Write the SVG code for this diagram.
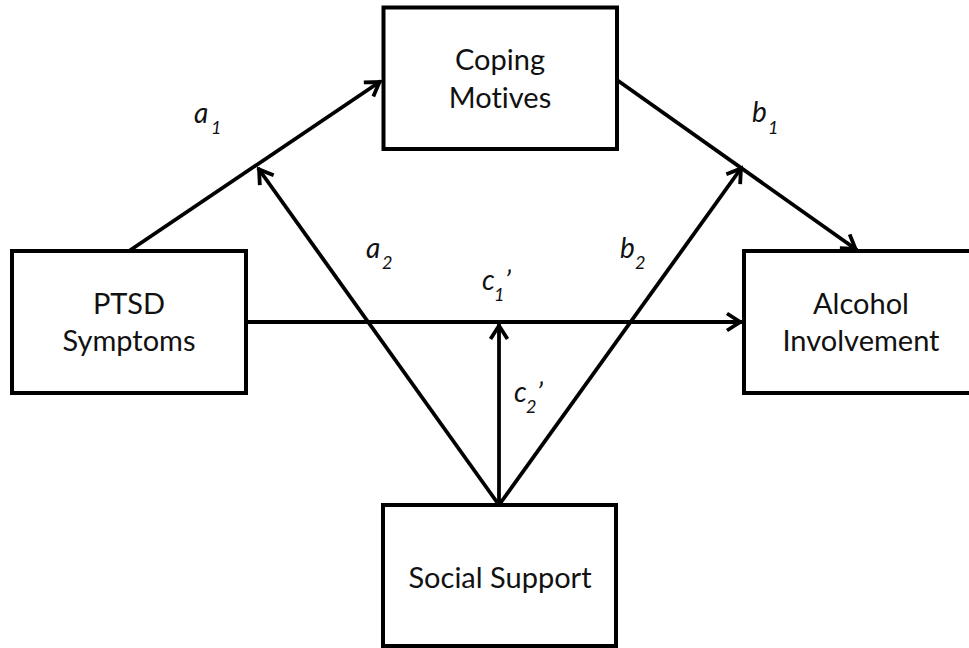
<svg xmlns="http://www.w3.org/2000/svg" width="969" height="648" viewBox="0 0 969 648">
  <style>
    .box { fill: #ffffff; stroke: #000000; stroke-width: 4; }
    .name { font-family: Lato, "Open Sans", "Liberation Sans", sans-serif; font-size: 29px; fill: #111111; text-anchor: middle; font-variant-ligatures: none; }
    .path { stroke: #000000; stroke-width: 3.8; fill: none; marker-end: url(#arrow); }
    .coef { font-family: Lato, "Open Sans", "Liberation Sans", sans-serif; font-style: italic; font-size: 28px; fill: #111111; }
    .sub { font-size: 18px; }
  </style>
  <defs>
    <marker id="arrow" markerUnits="userSpaceOnUse" viewBox="-20 -12 24 24" refX="0" refY="0" markerWidth="24" markerHeight="24" orient="auto">
      <path d="M-15,-8.5 L-1.8,0 L-15,8.5" fill="none" stroke="#000000" stroke-width="3.8"/>
    </marker>
  </defs>
  <rect width="969" height="648" fill="#ffffff"/>

  <!-- paths between the variables -->
  <g id="connectors">
    <line class="path" x1="129" y1="251" x2="381" y2="81"/>
    <line class="path" x1="617" y1="80" x2="857" y2="250"/>
    <line class="path" x1="246" y1="322" x2="742" y2="322"/>
    <line class="path" x1="499" y1="505" x2="499" y2="324"/>
    <line class="path" x1="499" y1="505" x2="258" y2="168"/>
    <line class="path" x1="499" y1="505" x2="742" y2="167"/>
  </g>

  <g id="coping-motives">
    <rect class="box" x="383.5" y="7.5" width="233.5" height="141.5"/>
    <text class="name" x="500" y="70">Coping</text>
    <text class="name" x="500" y="108">Motives</text>
  </g>

  <g id="ptsd-symptoms">
    <rect class="box" x="12" y="251" width="234" height="142"/>
    <text class="name" x="129" y="314">PTSD</text>
    <text class="name" x="129" y="351">Symptoms</text>
  </g>

  <g id="alcohol-involvement">
    <rect class="box" x="744" y="251" width="234" height="142"/>
    <text class="name" x="861" y="314">Alcohol</text>
    <text class="name" x="861" y="351">Involvement</text>
  </g>

  <g id="social-support">
    <rect class="box" x="383" y="505" width="233" height="141"/>
    <text class="name" x="500" y="588">Social Support</text>
  </g>

  <!-- path coefficients -->
  <g id="labels">
    <text class="coef" x="194" y="123">a<tspan class="sub" x="211" y="134">1</tspan></text>
    <text class="coef" x="752" y="122">b<tspan class="sub" x="768" y="134">1</tspan></text>
    <text class="coef" x="366" y="258">a<tspan class="sub" x="382" y="269">2</tspan></text>
    <text class="coef" x="620" y="258">b<tspan class="sub" x="635" y="269">2</tspan></text>
    <text class="coef" x="482" y="290">c<tspan class="sub" x="494" y="301">1</tspan><tspan x="505" y="291">’</tspan></text>
    <text class="coef" x="514" y="402">c<tspan class="sub" x="526" y="413">2</tspan><tspan x="537" y="403">’</tspan></text>
  </g>
</svg>
